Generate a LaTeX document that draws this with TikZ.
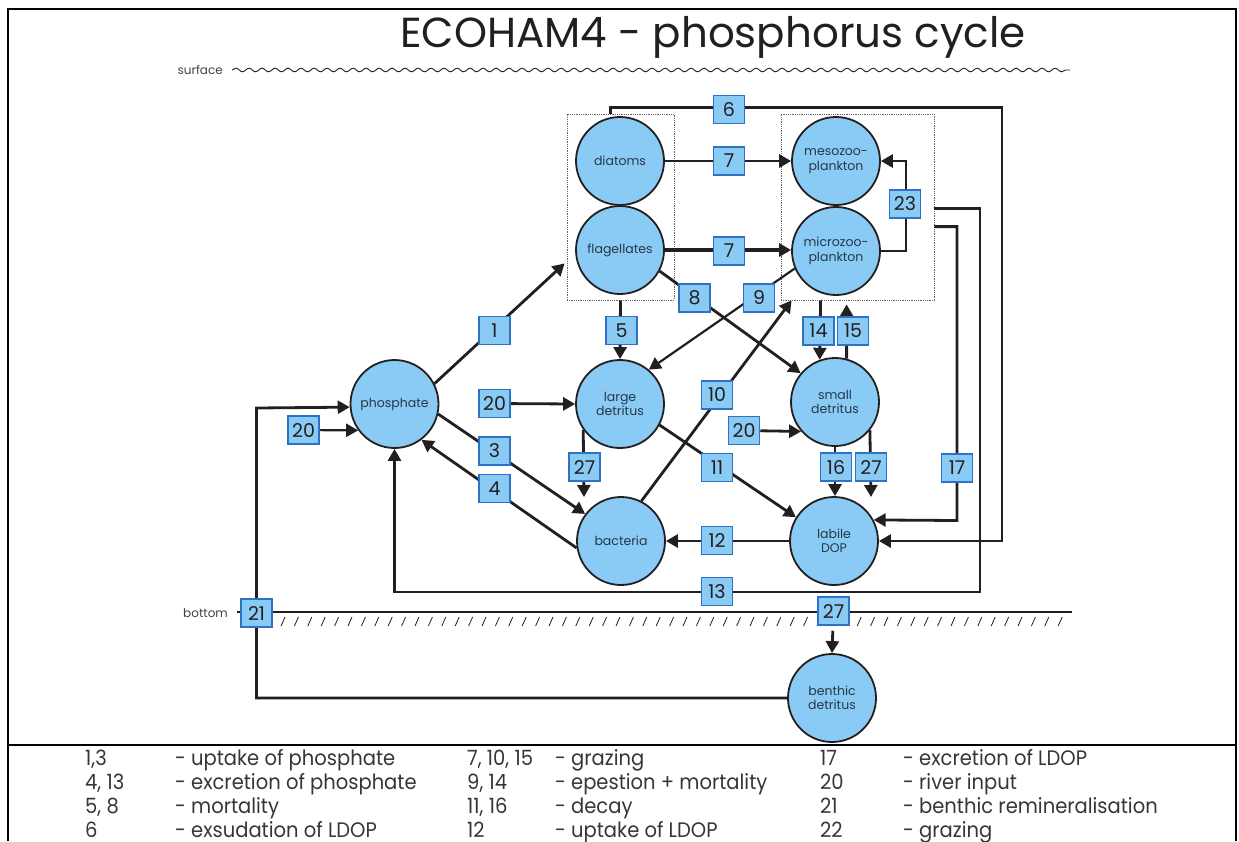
\documentclass[tikz,border=0pt]{standalone}
\usepackage{fontspec}
\setmainfont{Poppins}
\newfontfamily\legfont[FakeStretch=0.93]{Poppins}
\usetikzlibrary{arrows.meta,decorations.pathmorphing,calc}
\definecolor{cfill}{RGB}{137,203,245}
\definecolor{bedge}{RGB}{45,115,195}
\definecolor{ink}{RGB}{35,31,32}
\definecolor{ntext}{RGB}{40,55,70}
\begin{document}
\begin{tikzpicture}[x=1pt,y=-1pt,
  comp/.style={circle,draw=ink,line width=1.8pt,fill=cfill,minimum size=88pt,inner sep=0pt,align=center,font=\fontsize{12.5}{14.5}\selectfont,text=ntext},
  num/.style={draw=bedge,line width=1.5pt,fill=cfill,minimum width=31pt,minimum height=28pt,inner sep=0pt,font=\fontsize{19}{20}\selectfont,text=ink},
  grp/.style={draw=ink!70,densely dotted,line width=0.8pt,inner sep=0pt},
  flow/.style={draw=ink,line width=2.8pt,-{Triangle[length=12pt,width=13pt]}},
  thinflow/.style={draw=ink,line width=2.2pt,-{Triangle[length=12pt,width=13pt]}},
  leg/.style={anchor=base west,inner sep=0pt,font=\legfont\fontsize{21}{23}\selectfont,text=ink!90},
  lbl/.style={font=\fontsize{12}{14}\selectfont,text=ink!85,inner sep=0pt}]
\useasboundingbox (0,0) rectangle (1239,841);
% frame
\draw[line width=2.2pt] (8,841) -- (8,9) -- (1236,9) -- (1236,841);
\draw[line width=2.2pt] (8,745) -- (1236,745);
% title
\node[font=\fontsize{42}{46}\selectfont,text=ink] (title) at (713,37) {ECOHAM4 - phosphorus cycle};
% surface and bottom
\node[lbl,anchor=east] (surf) at (223,70) {surface};
\draw[line width=0.9pt,ink,decorate,decoration={snake,segment length=13pt,amplitude=1.8pt}] (232,70) -- (1070,70);
\node[lbl,anchor=east] (bot) at (228,613) {bottom};
\draw[line width=2.2pt,ink] (237,612) -- (1072,612);
\foreach \hx in {281,294.4,...,1068} {\draw[line width=0.8pt,ink] (\hx,626) -- (\hx+4,617);}
% groups
\node[grp,minimum width=107pt,minimum height=186pt] (phyL) at (620.5,207) {};
\node[grp,minimum width=153pt,minimum height=186pt] (zooL) at (857.5,207) {};
% compartments
\node[comp] (dia) at (620,161) {diatoms};
\node[comp] (fla) at (620,250) {flagellates};
\node[comp] (meso) at (836,161) {mesozoo-\\plankton};
\node[comp] (micro) at (836,251) {microzoo-\\plankton};
\node[comp] (phos) at (394.5,404) {phosphate};
\node[comp] (ldet) at (620,404) {large\\detritus};
\node[comp] (sdet) at (835,402) {small\\detritus};
\node[comp] (bac) at (621,541) {bacteria};
\node[comp] (dop) at (834,541) {labile\\DOP};
\node[comp] (ben) at (832,698) {benthic\\detritus};
% helper coordinates
\coordinate (s6) at ($(phyL.north west)+(44,0)$);
\coordinate (s13) at ($(zooL.north east)+(0,95)$);
\coordinate (s17) at ($(zooL.north east)+(0,113)$);
\coordinate (e1) at ($(phyL.south west)+(-2,-37)$);
\coordinate (e10) at ($(zooL.south west)+(11,0)$);
\coordinate (s14) at ($(zooL.south west)+(40,0)$);
\coordinate (e15) at ($(zooL.south west)+(66,4)$);
\coordinate (e27a) at (584,497);
\coordinate (e27b) at (871,497);
% numbered boxes (positions)
\node[num] (n6) at (729,109.5) {6};
\node[num] (n7a) at (729,161) {7};
\node[num] (n7b) at (729,251) {7};
\node[num] (n23) at (905,204) {23};
\node[num] (n8) at (694.5,298) {8};
\node[num] (n9) at (759,298) {9};
\node[num] (n1) at (494.5,330.5) {1};
\node[num] (n5) at (621.5,330.5) {5};
\node[num] (n14) at (818.5,331) {14};
\node[num] (n15) at (853,331) {15};
\node[num] (n20a) at (494.5,403.5) {20};
\node[num] (n20b) at (303.5,430) {20};
\node[num] (n10) at (717,395) {10};
\node[num] (n20c) at (744,430.5) {20};
\node[num] (n3) at (494.5,451) {3};
\node[num] (n4) at (494.5,488.5) {4};
\node[num] (n27a) at (584.5,467) {27};
\node[num] (n11) at (717,467.5) {11};
\node[num] (n16) at (836,467) {16};
\node[num] (n27b) at (871,467) {27};
\node[num] (n17) at (957,468) {17};
\node[num] (n12) at (717,540.5) {12};
\node[num] (n13) at (717,591.5) {13};
\node[num] (n21) at (256.5,613) {21};
\node[num] (n27c) at (833.5,611) {27};
% connectors
\draw[flow] (s6) -- ++(0,-6) -| (1002,541) -- (dop.east);
\draw[flow] (dia.east) -- (dia.east -| meso.west);
\draw[flow,line width=3.6pt] (fla.east) -- (fla.east -| micro.west);
\draw[flow] (micro.east) -| ($(meso.east)+(25,0)$) -- (meso.east);
\draw[flow] (s13) -| (980,592) -| (phos.south);
\draw[flow] (s17) -| (957,520.5) -- (dop.28);
\draw[flow] (fla.-28) -- (sdet.140);
\draw[thinflow] (micro.203) -- (ldet.50);
\draw[flow] (bac.63) -- (e10);
\draw[flow] (s14) -- (sdet.110);
\draw[flow] (sdet.75) -- (e15);
\draw[flow] (phyL.south) -- (ldet.north);
\draw[flow] (phos.27) -- (e1);
\draw[flow] (phos.-13) -- (bac.143);
\draw[flow] (bac.189) -- (phos.-53);
\draw[flow] (ldet.-28) -- (dop.148);
\draw[flow] (dop.west) -- (bac.east);
\draw[flow] (sdet.south) -- (sdet.south |- dop.north);
\draw[flow] (sdet.-39) -- (e27b);
\draw[flow] (ldet.-145) -- (e27a);
\draw[flow] (n20a) -- (ldet.west);
\draw[thinflow] (n20b) -- (phos.216);
\draw[flow] (n20c) -- (sdet.221);
\draw[flow] (ben.west) -| (256.5,408) -- (phos.184);
\draw[flow,shorten <=5pt] (n27c) -- (ben.north);
% redraw boxes on top of connectors
\foreach \n/\t in {n6/6,n7a/7,n7b/7,n23/23,n8/8,n9/9,n1/1,n5/5,n14/14,n15/15,n20a/20,n20b/20,n10/10,n20c/20,n3/3,n4/4,n27a/27,n11/11,n16/16,n27b/27,n17/17,n12/12,n13/13,n21/21,n27c/27}
  {\node[num] at (\n) {\t};}
% legend
\node[leg] (l1a) at (85,765) {1,3};
\node[leg] (l1b) at (175,765) {- uptake of phosphate};
\node[leg] (l2a) at (85,789) {4, 13};
\node[leg] (l2b) at (175,789) {- excretion of phosphate};
\node[leg] (l3a) at (85,813) {5, 8};
\node[leg] (l3b) at (175,813) {- mortality};
\node[leg] (l4a) at (85,837) {6};
\node[leg] (l4b) at (175,837) {- exsudation of LDOP};
\node[leg] (l5a) at (467,765) {7, 10, 15};
\node[leg] (l5b) at (555,765) {- grazing};
\node[leg] (l6a) at (467,789) {9, 14};
\node[leg] (l6b) at (555,789) {- epestion + mortality};
\node[leg] (l7a) at (467,813) {11, 16};
\node[leg] (l7b) at (555,813) {- decay};
\node[leg] (l8a) at (467,837) {12};
\node[leg] (l8b) at (555,837) {- uptake of LDOP};
\node[leg] (l9a) at (820,765) {17};
\node[leg] (l9b) at (903,765) {- excretion of LDOP};
\node[leg] (l10a) at (820,789) {20};
\node[leg] (l10b) at (903,789) {- river input};
\node[leg] (l11a) at (820,813) {21};
\node[leg] (l11b) at (903,813) {- benthic remineralisation};
\node[leg] (l12a) at (820,837) {22};
\node[leg] (l12b) at (903,837) {- grazing};
\end{tikzpicture}
\end{document}
